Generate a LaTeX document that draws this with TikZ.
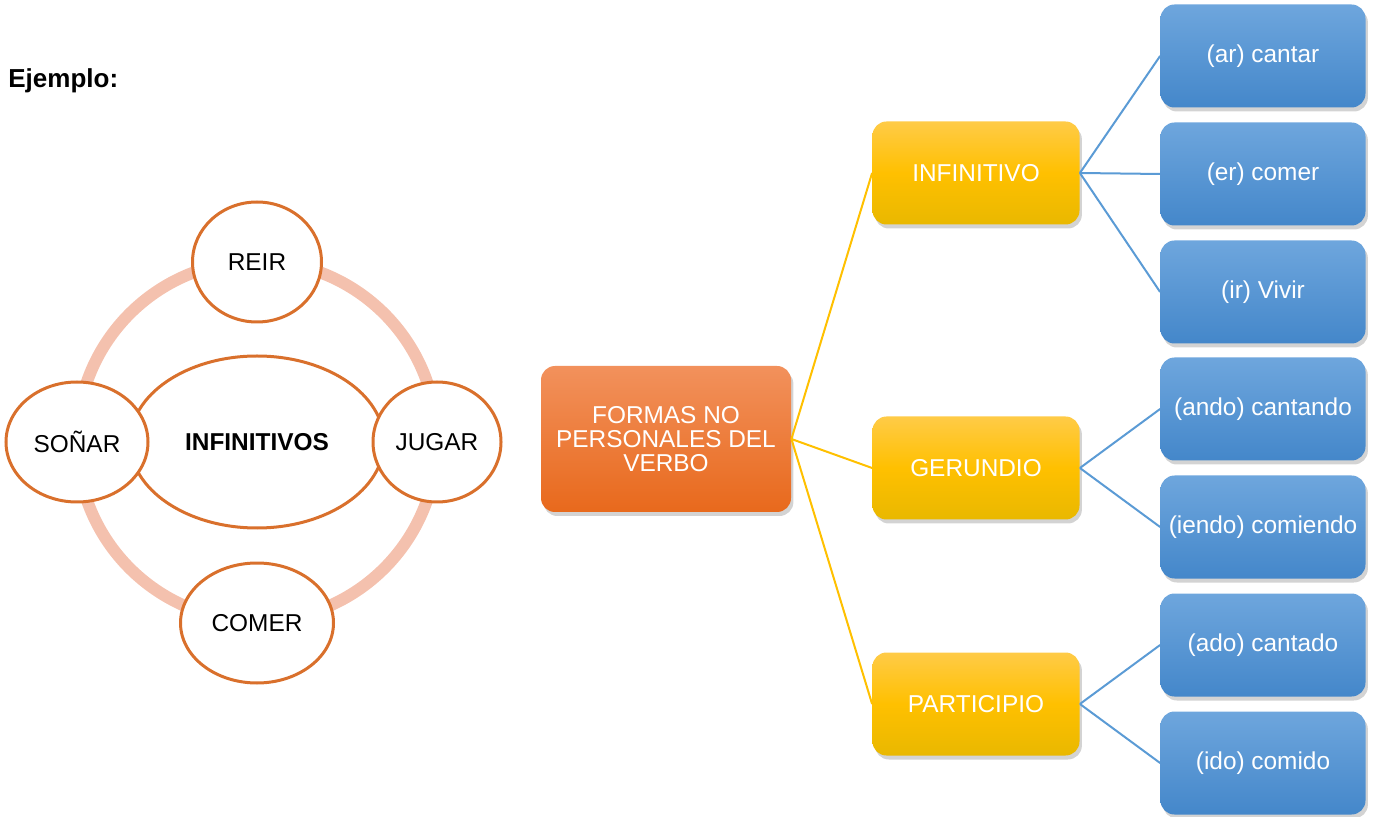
\documentclass[tikz,border=0pt]{standalone}
\usepackage{fontspec}
\setmainfont{Liberation Sans}
\usetikzlibrary{shapes.geometric,shadows}
\definecolor{ringc}{HTML}{F4C1AE}
\definecolor{edgec}{HTML}{D9702C}
\definecolor{orgtop}{HTML}{F2915C}
\definecolor{orgbot}{HTML}{E8691C}
\definecolor{yeltop}{HTML}{FFCB47}
\definecolor{yelbot}{HTML}{E9B800}
\definecolor{blutop}{HTML}{6EA6DD}
\definecolor{blubot}{HTML}{4487CA}
\definecolor{yline}{HTML}{FFC000}
\definecolor{bline}{HTML}{5B9BD5}
\tikzset{
  txt/.style={font=\fontsize{12.2}{12}\selectfont},
  bub/.style={txt, ellipse, draw=edgec, line width=1.5pt, fill=white, inner sep=0pt, minimum height=60pt},
  card/.style={txt, rectangle, rounded corners=7pt, text=white, align=center, inner sep=0pt,
    drop shadow={opacity=0.35, shadow xshift=1.2pt, shadow yshift=-2pt}},
  mainbox/.style={card, top color=orgtop, bottom color=orgbot, minimum width=125pt, minimum height=73pt},
  formbox/.style={card, top color=yeltop, bottom color=yelbot, middle color=yline, minimum width=103.5pt, minimum height=51.5pt},
  endbox/.style={card, top color=blutop, bottom color=blubot, minimum width=102.5pt, minimum height=51.5pt},
}
\begin{document}
\begin{tikzpicture}[x=0.5pt,y=-0.5pt]
    \useasboundingbox (0,0) rectangle (1375,817);
    \node[name=ej, anchor=base west, inner sep=0pt, font=\fontsize{13}{13}\selectfont\bfseries] at (8,88) {Ejemplo:};
    % ring of verbs
    \draw[ringc, line width=6pt] (257,441) circle [radius=90pt];
    \node[name=inf0, txt, ellipse, draw=edgec, line width=1.5pt, fill=white, minimum width=127pt, minimum height=86pt, inner sep=0pt] at (257,442) {\bfseries INFINITIVOS};
    \node[name=reir, bub, minimum width=64.5pt] at (257,262) {REIR};
    \node[name=sonar, bub, minimum width=71pt] at (77,442) {SOÑAR};
    \node[name=jugar, bub, minimum width=64pt] at (437,442) {JUGAR};
    \node[name=comer, bub, minimum width=76.5pt] at (257,623) {COMER};
    % tree
    \node[name=formas, mainbox] at (666,439) {FORMAS NO\\PERSONALES DEL\\VERBO};
    \node[name=infi, formbox] at (976,173) {INFINITIVO};
    \node[name=geru, formbox] at (976,468) {GERUNDIO};
    \node[name=part, formbox] at (976,704) {PARTICIPIO};
    \node[name=b1, endbox] at (1263,56) {(ar) cantar};
    \node[name=b2, endbox] at (1263,174) {(er) comer};
    \node[name=b3, endbox] at (1263,292) {(ir) Vivir};
    \node[name=b4, endbox] at (1263,409) {(ando) cantando};
    \node[name=b5, endbox] at (1263,527) {(iendo) comiendo};
    \node[name=b6, endbox] at (1263,645) {(ado) cantado};
    \node[name=b7, endbox] at (1263,763) {(ido) comido};
    \draw[yline, line width=1pt] (formas.east) -- (infi.west);
    \draw[yline, line width=1pt] (formas.east) -- (geru.west);
    \draw[yline, line width=1pt] (formas.east) -- (part.west);
    \draw[bline, line width=1pt] (infi.east) -- (b1.west);
    \draw[bline, line width=1pt] (infi.east) -- (b2.west);
    \draw[bline, line width=1pt] (infi.east) -- (b3.west);
    \draw[bline, line width=1pt] (geru.east) -- (b4.west);
    \draw[bline, line width=1pt] (geru.east) -- (b5.west);
    \draw[bline, line width=1pt] (part.east) -- (b6.west);
    \draw[bline, line width=1pt] (part.east) -- (b7.west);
\end{tikzpicture}
\end{document}
